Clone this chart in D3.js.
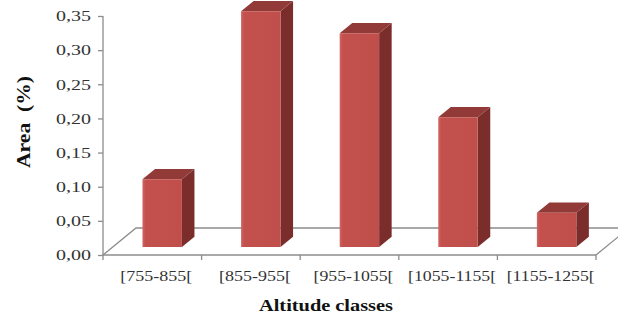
<!DOCTYPE html>
<html>
<head>
<meta charset="utf-8">
<script src="https://cdn.jsdelivr.net/npm/d3@7"></script>
<style>
  html, body { margin: 0; padding: 0; background: #ffffff; }
  svg { display: block; }
</style>
</head>
<body>
<svg id="chart" width="618" height="320"></svg>
<script>
// Share of area per altitude class
const categories = ["[755-855[", "[855-955[", "[955-1055[", "[1055-1155[", "[1155-1255["];
const values = [0.099, 0.345, 0.313, 0.19, 0.05];
const yTicks = [0, 0.05, 0.10, 0.15, 0.20, 0.25, 0.30, 0.35];
const yTitle = "Area  (%)";
const xTitle = "Altitude classes";

const svg = d3.select("#chart");
const fmt = v => d3.format(".2f")(v).replace(".", ",");

// Plot frame (front edge of the floor) and depth of the 3D box
const plotLeft = 103, plotRight = 596, plotBottom = 255, plotTop = 16;
const depthX = 33, depthY = -27;           // floor depth offset
const barFront = 0.30, barBack = 0.68;     // bar depth as a fraction of floor depth

const x = d3.scaleBand().domain(categories).range([plotLeft, plotRight]).paddingInner(0).paddingOuter(0);
const y = d3.scaleLinear().domain([0, 0.35]).range([plotBottom, plotTop]);
const barW = x.bandwidth() * 0.4;

// project (screen x at front, value, depth fraction) to screen coordinates
const P = (px, v, d) => [px + d * depthX, y(v) + d * depthY];
const path = pts => "M" + pts.map(p => p.join(",")).join("L") + "Z";

// Floor outline
const floor = svg.append("g").attr("stroke", "#8c8c8c").attr("stroke-width", 1.3).attr("fill", "none");
floor.append("path").attr("d",
  "M" + P(plotLeft, 0, 0).join(",") + "L" + P(plotLeft, 0, 1).join(",") +
  "L" + P(plotRight, 0, 1).join(",") + "M" + P(plotRight, 0, 0).join(",") + "L" + P(plotRight, 0, 1).join(","));

// Bar face gradient
const defs = svg.append("defs");
const grad = defs.append("linearGradient").attr("id", "front").attr("x1", 0).attr("x2", 1).attr("y1", 0).attr("y2", 0);
grad.append("stop").attr("offset", 0).attr("stop-color", "#cf6663");
grad.append("stop").attr("offset", 0.08).attr("stop-color", "#c3504d");
grad.append("stop").attr("offset", 1).attr("stop-color", "#c04f4c");

// Bars
const bars = svg.append("g").selectAll("g").data(categories.map((c, i) => ({ c, v: values[i] }))).join("g");
bars.each(function (d) {
  const g = d3.select(this);
  const x0 = x(d.c) + (x.bandwidth() - barW) / 2;
  const x1 = x0 + barW;
  // side face
  g.append("path").attr("fill", "#7b2d2b")
    .attr("d", path([P(x1, 0, barFront), P(x1, 0, barBack), P(x1, d.v, barBack), P(x1, d.v, barFront)]));
  // top face
  g.append("path").attr("fill", "#923a37")
    .attr("d", path([P(x0, d.v, barFront), P(x0, d.v, barBack), P(x1, d.v, barBack), P(x1, d.v, barFront)]));
  // front face
  g.append("path").attr("fill", "url(#front)")
    .attr("d", path([P(x0, 0, barFront), P(x1, 0, barFront), P(x1, d.v, barFront), P(x0, d.v, barFront)]));
});

// Value axis
const yAxis = svg.append("g").attr("transform", `translate(${plotLeft},0)`)
  .call(d3.axisLeft(y).tickValues(yTicks).tickFormat(fmt).tickSize(5).tickPadding(7));
yAxis.select(".domain").attr("stroke", "#8c8c8c").attr("stroke-width", 1.3).attr("d", `M0,${plotTop}V${plotBottom}`);
yAxis.selectAll(".tick line").attr("stroke", "#8c8c8c").attr("stroke-width", 1.3);
yAxis.selectAll(".tick text")
  .attr("font-family", "'Liberation Serif', 'Times New Roman', serif")
  .attr("font-size", 15).attr("fill", "#333")
  .attr("textLength", 35).attr("lengthAdjust", "spacingAndGlyphs");

// Category axis
const xAxis = svg.append("g").attr("transform", `translate(0,${plotBottom})`)
  .call(d3.axisBottom(x).tickSize(0).tickPadding(0));
xAxis.select(".domain").attr("stroke", "#8c8c8c").attr("stroke-width", 1.3).attr("d", `M${plotLeft},0H${plotRight}`);
xAxis.selectAll(".tick text")
  .attr("font-family", "'Liberation Serif', 'Times New Roman', serif")
  .attr("font-size", 15).attr("fill", "#333")
  .attr("dy", null).attr("y", 26).attr("dx", 4)
  .attr("textLength", d => d.length * 8).attr("lengthAdjust", "spacingAndGlyphs");
// category boundary ticks
xAxis.append("g").selectAll("line").data(d3.range(categories.length + 1)).join("line")
  .attr("x1", i => plotLeft + i * x.bandwidth()).attr("x2", i => plotLeft + i * x.bandwidth())
  .attr("y1", 0).attr("y2", 5).attr("stroke", "#8c8c8c").attr("stroke-width", 1.3);

// Axis titles
svg.append("text").attr("x", 326).attr("y", 311).attr("text-anchor", "middle")
  .attr("font-family", "'Liberation Serif', 'Times New Roman', serif")
  .attr("font-weight", "bold").attr("font-size", 17).attr("fill", "#111")
  .attr("textLength", 134).attr("lengthAdjust", "spacingAndGlyphs")
  .text(xTitle);

svg.append("text").attr("transform", "translate(30,122) rotate(-90)").attr("text-anchor", "middle")
  .attr("font-family", "'Liberation Serif', 'Times New Roman', serif")
  .attr("font-weight", "bold").attr("font-size", 19).attr("fill", "#111")
  .style("white-space", "pre")
  .attr("textLength", 92).attr("lengthAdjust", "spacingAndGlyphs")
  .text(yTitle);
</script>
</body>
</html>
